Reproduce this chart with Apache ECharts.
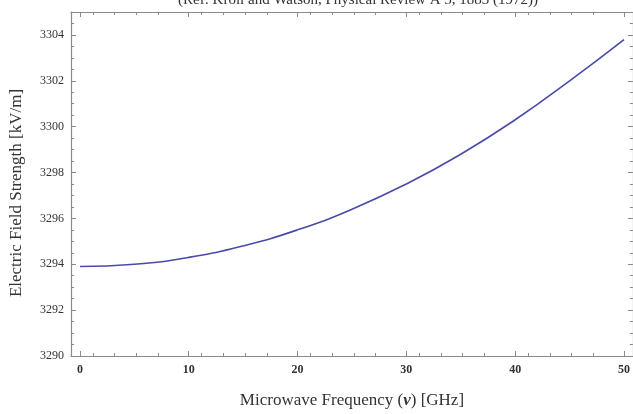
<!DOCTYPE html>
<html>
<head>
<meta charset="utf-8">
<script src="https://cdn.jsdelivr.net/npm/echarts@6/dist/echarts.min.js"></script>
<style>html,body{margin:0;padding:0;background:#fff}#c{width:633px;height:414px}</style>
</head>
<body>
<div id="c"></div>
<script>
var freqGHz = [0, 5, 10, 15, 20, 25, 30, 35, 40, 45, 50];
var fieldKVm = [3293.90, 3294.00, 3294.30, 3294.80, 3295.50, 3296.40, 3297.50, 3298.80, 3300.30, 3302.00, 3303.80];
var xTicks = [0, 10, 20, 30, 40, 50];
var yTicks = [3290, 3292, 3294, 3296, 3298, 3300, 3302, 3304];
var titleText = '(Ref: Kroll and Watson, Physical Review A 5, 1883 (1972))';
var xNameParts = ['Microwave Frequency (', 'ν', ') [GHz]'];
var yName = 'Electric Field Strength [kV/m]';

var serif = '"Liberation Serif", "DejaVu Serif", serif';
var axisCol = '#8a8a8a';
var data = freqGHz.map(function(v, i){ return [v, fieldKVm[i]]; });

var chart = echarts.init(document.getElementById('c'));
var xBase = {
  type: 'value', min: -0.82, max: 50.82, interval: 10,
  axisLine: {show: true, onZero: false, lineStyle: {color: axisCol, width: 1.2}},
  axisTick: {show: true, inside: true, length: 5, lineStyle: {color: axisCol}, customValues: xTicks},
  minorTick: {show: true, splitNumber: 5, length: 3, lineStyle: {color: axisCol}},
  splitLine: {show: false}
};
var yBase = {
  type: 'value', min: 3290, max: 3305, interval: 2,
  axisLine: {show: true, onZero: false, lineStyle: {color: axisCol, width: 1.2}},
  axisTick: {show: true, inside: true, length: 5, lineStyle: {color: axisCol}, customValues: yTicks},
  minorTick: {show: true, splitNumber: 4, length: 3, lineStyle: {color: axisCol}},
  splitLine: {show: false}
};
function merge(a, b){ return Object.assign({}, a, b); }
var nameStyle = {fontFamily: serif, fontSize: 17, color: '#333'};
chart.setOption({
  animation: false,
  backgroundColor: '#fff',
  title: {
    text: titleText, left: 353, textAlign: 'center', top: -12,
    textStyle: {fontFamily: serif, fontSize: 15, fontWeight: 'normal', color: '#333'}
  },
  grid: {left: 71, top: 12, width: 564, height: 351, containLabel: false},
  xAxis: [
    merge(xBase, {
      position: 'bottom',
      axisLabel: {show: true, customValues: xTicks, formatter: function(v){ return String(v); },
        fontFamily: serif, fontSize: 12, fontWeight: 'bold', color: '#333', margin: 8},
      name: xNameParts[0] + '{b|' + xNameParts[1] + '}' + xNameParts[2],
      nameLocation: 'middle', nameGap: 36,
      nameTextStyle: merge(nameStyle, {rich: {b: {fontFamily: serif, fontSize: 17, fontWeight: 'bold', fontStyle: 'italic', color: '#333'}}})
    }),
    merge(xBase, {position: 'top', axisLabel: {show: false}})
  ],
  yAxis: [
    merge(yBase, {
      position: 'left',
      axisLabel: {show: true, customValues: yTicks, formatter: function(v){ return String(v); },
        fontFamily: serif, fontSize: 12, color: '#333', margin: 7},
      name: yName, nameLocation: 'middle', nameGap: 46,
      nameTextStyle: merge(nameStyle, {padding: [0, 18, 0, 0]})
    }),
    merge(yBase, {position: 'right', axisLabel: {show: false}})
  ],
  series: [{
    type: 'line', data: data, smooth: true, showSymbol: false,
    xAxisIndex: 0, yAxisIndex: 0,
    lineStyle: {color: '#4a4aa8', width: 1.6}
  }]
});
</script>
</body>
</html>
